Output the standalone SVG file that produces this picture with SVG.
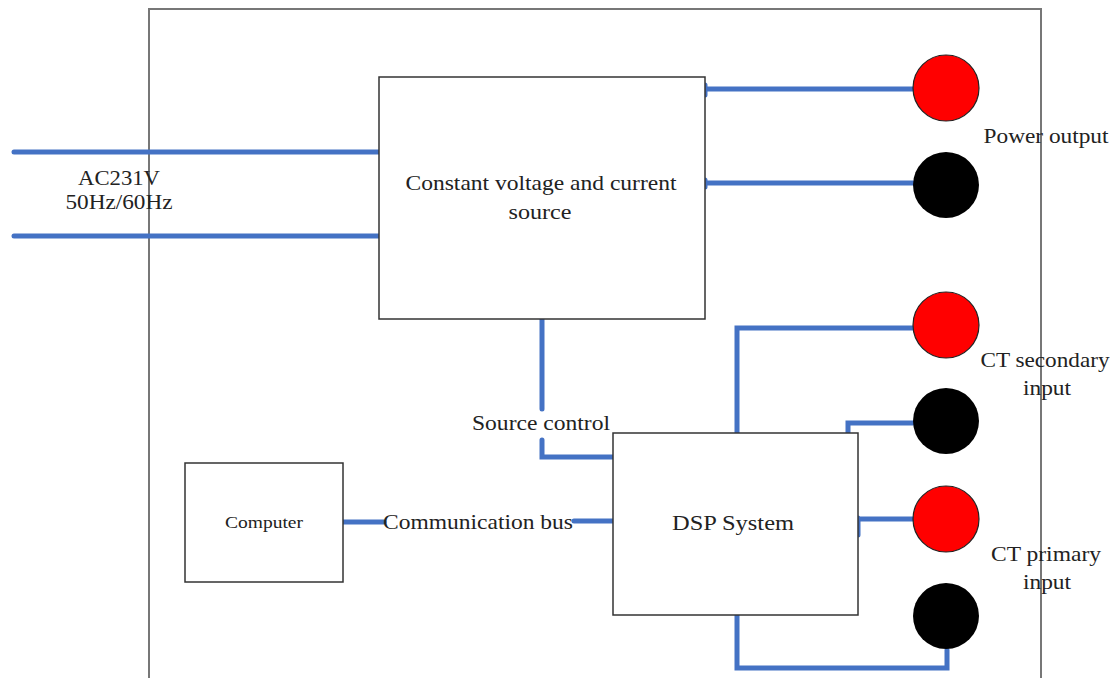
<svg xmlns="http://www.w3.org/2000/svg" width="1116" height="678" viewBox="0 0 1116 678">
<style>
.frame{fill:none;stroke:#777;stroke-width:2}
.box{fill:#fff;stroke:#333;stroke-width:1.5}
.wire{fill:none;stroke:#4472c4;stroke-width:5;stroke-linecap:round;stroke-linejoin:miter}
.t{font-family:"Liberation Serif","Times New Roman",serif;font-size:21px;fill:#222;text-anchor:middle;dominant-baseline:central}
.red{fill:#ff0000;stroke:#222;stroke-width:1.2}
.blk{fill:#000}
</style>
<rect width="1116" height="678" fill="#fff"/>
<path class="frame" d="M149 690 V9 H1041 V690"/>
<g id="connectors">
<path class="wire" d="M14 152 H380"/>
<path class="wire" d="M14 236 H380"/>
<path class="wire" d="M705 89 H913 M705 85 V95"/>
<path class="wire" d="M705 183 H913 M705 180 V187"/>
<path class="wire" d="M737 433 V328 H913"/>
<path class="wire" d="M848 433 V423 H913"/>
<path class="wire" d="M858 519 H913 M858 518 V535"/>
<path class="wire" d="M737 615 V668 H947 V650"/>
<path class="wire" d="M542 319 V409"/>
<path class="wire" d="M542 440 V457 H613"/>
<path class="wire" d="M343 522 H384"/>
<path class="wire" d="M574 521 H613"/>
</g>
<g id="ac-label">
<text class="t" x="119" y="178" textLength="82" lengthAdjust="spacingAndGlyphs">AC231V</text>
<text class="t" x="119" y="202" textLength="107" lengthAdjust="spacingAndGlyphs">50Hz/60Hz</text>
</g>
<g id="source">
<rect class="box" x="379" y="77" width="326" height="242"/>
<text class="t" x="541" y="183" textLength="271" lengthAdjust="spacingAndGlyphs">Constant voltage and current</text>
<text class="t" x="540" y="212" textLength="63" lengthAdjust="spacingAndGlyphs">source</text>
</g>
<g id="dsp">
<rect class="box" x="613" y="433" width="245" height="182"/>
<text class="t" x="733" y="523" textLength="122" lengthAdjust="spacingAndGlyphs">DSP System</text>
</g>
<g id="computer">
<rect class="box" x="185" y="463" width="158" height="119"/>
<text class="t" x="264" y="522" style="font-size:16px" textLength="78" lengthAdjust="spacingAndGlyphs">Computer</text>
</g>
<g id="labels">
<text class="t" x="541" y="423" textLength="138" lengthAdjust="spacingAndGlyphs">Source control</text>
<text class="t" x="478" y="522" textLength="190" lengthAdjust="spacingAndGlyphs">Communication bus</text>
</g>
<g id="power-output">
<circle class="red" cx="946" cy="88" r="33"/>
<circle class="blk" cx="946" cy="185" r="33"/>
<text class="t" x="1046" y="136" textLength="125" lengthAdjust="spacingAndGlyphs">Power output</text>
</g>
<g id="ct-secondary">
<circle class="red" cx="946" cy="325" r="33"/>
<circle class="blk" cx="946" cy="421" r="33"/>
<text class="t" x="1045" y="360" textLength="129" lengthAdjust="spacingAndGlyphs">CT secondary</text>
<text class="t" x="1047" y="388" textLength="48" lengthAdjust="spacingAndGlyphs">input</text>
</g>
<g id="ct-primary">
<circle class="red" cx="946" cy="519" r="33"/>
<circle class="blk" cx="946" cy="616" r="33"/>
<text class="t" x="1046" y="554" textLength="110" lengthAdjust="spacingAndGlyphs">CT primary</text>
<text class="t" x="1047" y="582" textLength="48" lengthAdjust="spacingAndGlyphs">input</text>
</g>
</svg>
